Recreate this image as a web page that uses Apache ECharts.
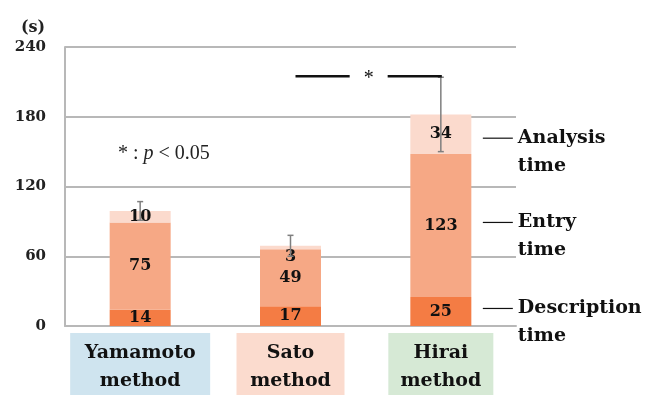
<!DOCTYPE html>
<html>
<head>
<meta charset="utf-8">
<script src="https://cdn.jsdelivr.net/npm/echarts@6/dist/echarts.min.js"></script>
<style>
  html, body { margin: 0; padding: 0; background: #fff; }
  #chart { width: 660px; height: 395px; }
</style>
</head>
<body>
<div id="chart"></div>
<script>
// Working time per method, in seconds
var methods = ['Yamamoto\nmethod', 'Sato\nmethod', 'Hirai\nmethod'];
var descriptionTime = [14, 17, 25];
var entryTime = [75, 49, 123];
var analysisTime = [10, 3, 34];
var totalSD = [8, 9, 32];
var yTicks = [0, 60, 120, 180, 240];
var segmentNames = ['Description\ntime', 'Entry\ntime', 'Analysis\ntime'];
var significantPair = [1, 2];
var significanceLevel = 214;

var serif = 'DejaVu Serif';
var boxColors = ['#cfe4ef', '#fbdbce', '#d6e9d5'];
var boxWidths = [140, 108, 105];
var gridGray = '#b8b8b8';
// small vertical nudges (px) for the side captions
var captionNudge = [-3, -3, 4];

var totals = methods.map(function (_, i) {
  return descriptionTime[i] + entryTime[i] + analysisTime[i];
});

// Mid-points of each segment on the rightmost bar, used for the side captions
var last = methods.length - 1;
var segmentMids = [
  descriptionTime[last] / 2,
  descriptionTime[last] + entryTime[last] / 2,
  descriptionTime[last] + entryTime[last] + analysisTime[last] / 2
];

var chart = echarts.init(document.getElementById('chart'));

var labelStyle = {
  show: true,
  position: 'inside',
  color: '#111',
  fontFamily: serif,
  fontWeight: 'bold',
  fontSize: 16
};

function barSeries(name, values, color, extra) {
  return {
    name: name,
    type: 'bar',
    stack: 'time',
    barWidth: 61,
    itemStyle: { color: color },
    label: labelStyle,
    data: values.map(function (v, i) {
      var item = { value: v };
      if (extra && extra[i]) item.label = extra[i];
      return item;
    }),
    z: 2
  };
}

chart.setOption({
  animation: false,
  grid: { left: 65, right: 144, top: 47, bottom: 69, outerBoundsMode: 'none', containLabel: false },
  title: {
    text: '(s)',
    left: 16,
    top: 15,
    textStyle: { fontFamily: serif, fontWeight: 'bold', fontSize: 16, color: '#222' }
  },
  graphic: [{
    type: 'text',
    left: 118,
    top: 144,
    style: {
      text: '* : {i|p} < 0.05',
      fontFamily: 'Liberation Serif',
      fontSize: 20,
      fill: '#222',
      rich: {
        i: { fontFamily: 'Liberation Serif', fontStyle: 'italic', fontSize: 20, fill: '#222' }
      }
    }
  }],
  xAxis: {
    type: 'category',
    data: methods.map(function (m, i) {
      return {
        value: m,
        textStyle: {
          backgroundColor: boxColors[i],
          width: boxWidths[i],
          padding: [6, 0, 12, 0],
          align: 'center'
        }
      };
    }),
    axisLine: { show: true, lineStyle: { color: gridGray, width: 2 } },
    axisTick: { show: false },
    axisLabel: {
      interval: 0,
      margin: 7,
      fontFamily: serif,
      fontWeight: 'bold',
      fontSize: 19,
      lineHeight: 28,
      color: '#111'
    }
  },
  yAxis: {
    type: 'value',
    min: yTicks[0],
    max: yTicks[yTicks.length - 1],
    interval: yTicks[1] - yTicks[0],
    axisLine: { show: true, lineStyle: { color: gridGray, width: 2 } },
    axisTick: { show: false },
    splitLine: { lineStyle: { color: gridGray, width: 2 } },
    axisLabel: {
      margin: 19,
      fontFamily: serif,
      fontWeight: 'bold',
      fontSize: 15,
      color: '#222'
    }
  },
  series: [
    barSeries('Description time', descriptionTime, '#f47c44'),
    barSeries('Entry time', entryTime, '#f6a885'),
    barSeries('Analysis time', analysisTime, '#fbdacd', [null, { offset: [0, 9] }, null]),
    {
      // Standard deviation whiskers on the stacked totals
      type: 'custom',
      name: 'SD',
      z: 3,
      data: totals.map(function (t, i) { return [i, t, totalSD[i]]; }),
      renderItem: function (params, api) {
        var x = api.value(0), t = api.value(1), sd = api.value(2);
        var top = api.coord([x, t + sd]);
        var bot = api.coord([x, t - sd]);
        var cap = 3;
        var st = { stroke: '#7f7f7f', lineWidth: 1.5 };
        return {
          type: 'group',
          children: [
            { type: 'line', shape: { x1: top[0], y1: top[1], x2: bot[0], y2: bot[1] }, style: st },
            { type: 'line', shape: { x1: top[0] - cap, y1: top[1], x2: top[0] + cap, y2: top[1] }, style: st },
            { type: 'line', shape: { x1: bot[0] - cap, y1: bot[1], x2: bot[0] + cap, y2: bot[1] }, style: st }
          ]
        };
      }
    },
    {
      // Significance bracket between two methods
      type: 'custom',
      name: 'significance',
      z: 4,
      data: [[significantPair[0], significantPair[1], significanceLevel]],
      renderItem: function (params, api) {
        var a = api.coord([api.value(0), api.value(2)]);
        var b = api.coord([api.value(1), api.value(2)]);
        var x1 = a[0] + 5, x2 = b[0] + 1, y = a[1] - 1;
        var mid = (x1 + x2) / 2;
        var gap = 19;
        var st = { stroke: '#111', lineWidth: 2.5 };
        return {
          type: 'group',
          children: [
            { type: 'line', shape: { x1: x1, y1: y, x2: mid - gap, y2: y }, style: st },
            { type: 'line', shape: { x1: mid + gap, y1: y, x2: x2, y2: y }, style: st },
            { type: 'text', style: { text: '*', x: mid, y: y + 3, align: 'center', verticalAlign: 'middle',
              fontFamily: 'Liberation Serif', fontSize: 20, fill: '#111' } }
          ]
        };
      }
    },
    {
      // Captions naming each segment beside the last bar
      type: 'custom',
      name: 'captions',
      z: 4,
      data: segmentMids.map(function (v, i) { return [last, v, i]; }),
      renderItem: function (params, api) {
        var p = api.coord([api.value(0), api.value(1)]);
        var idx = api.value(2);
        var name = segmentNames[idx];
        var y = p[1] + captionNudge[idx];
        return {
          type: 'group',
          children: [
            { type: 'line', shape: { x1: p[0] + 42, y1: y, x2: p[0] + 72, y2: y },
              style: { stroke: '#111', lineWidth: 1.2 } },
            { type: 'text', style: { text: name, x: p[0] + 77, y: y - 14, align: 'left', verticalAlign: 'top',
              lineHeight: 28, fontFamily: serif, fontWeight: 'bold', fontSize: 19, fill: '#111' } }
          ]
        };
      }
    }
  ]
});
</script>
</body>
</html>
